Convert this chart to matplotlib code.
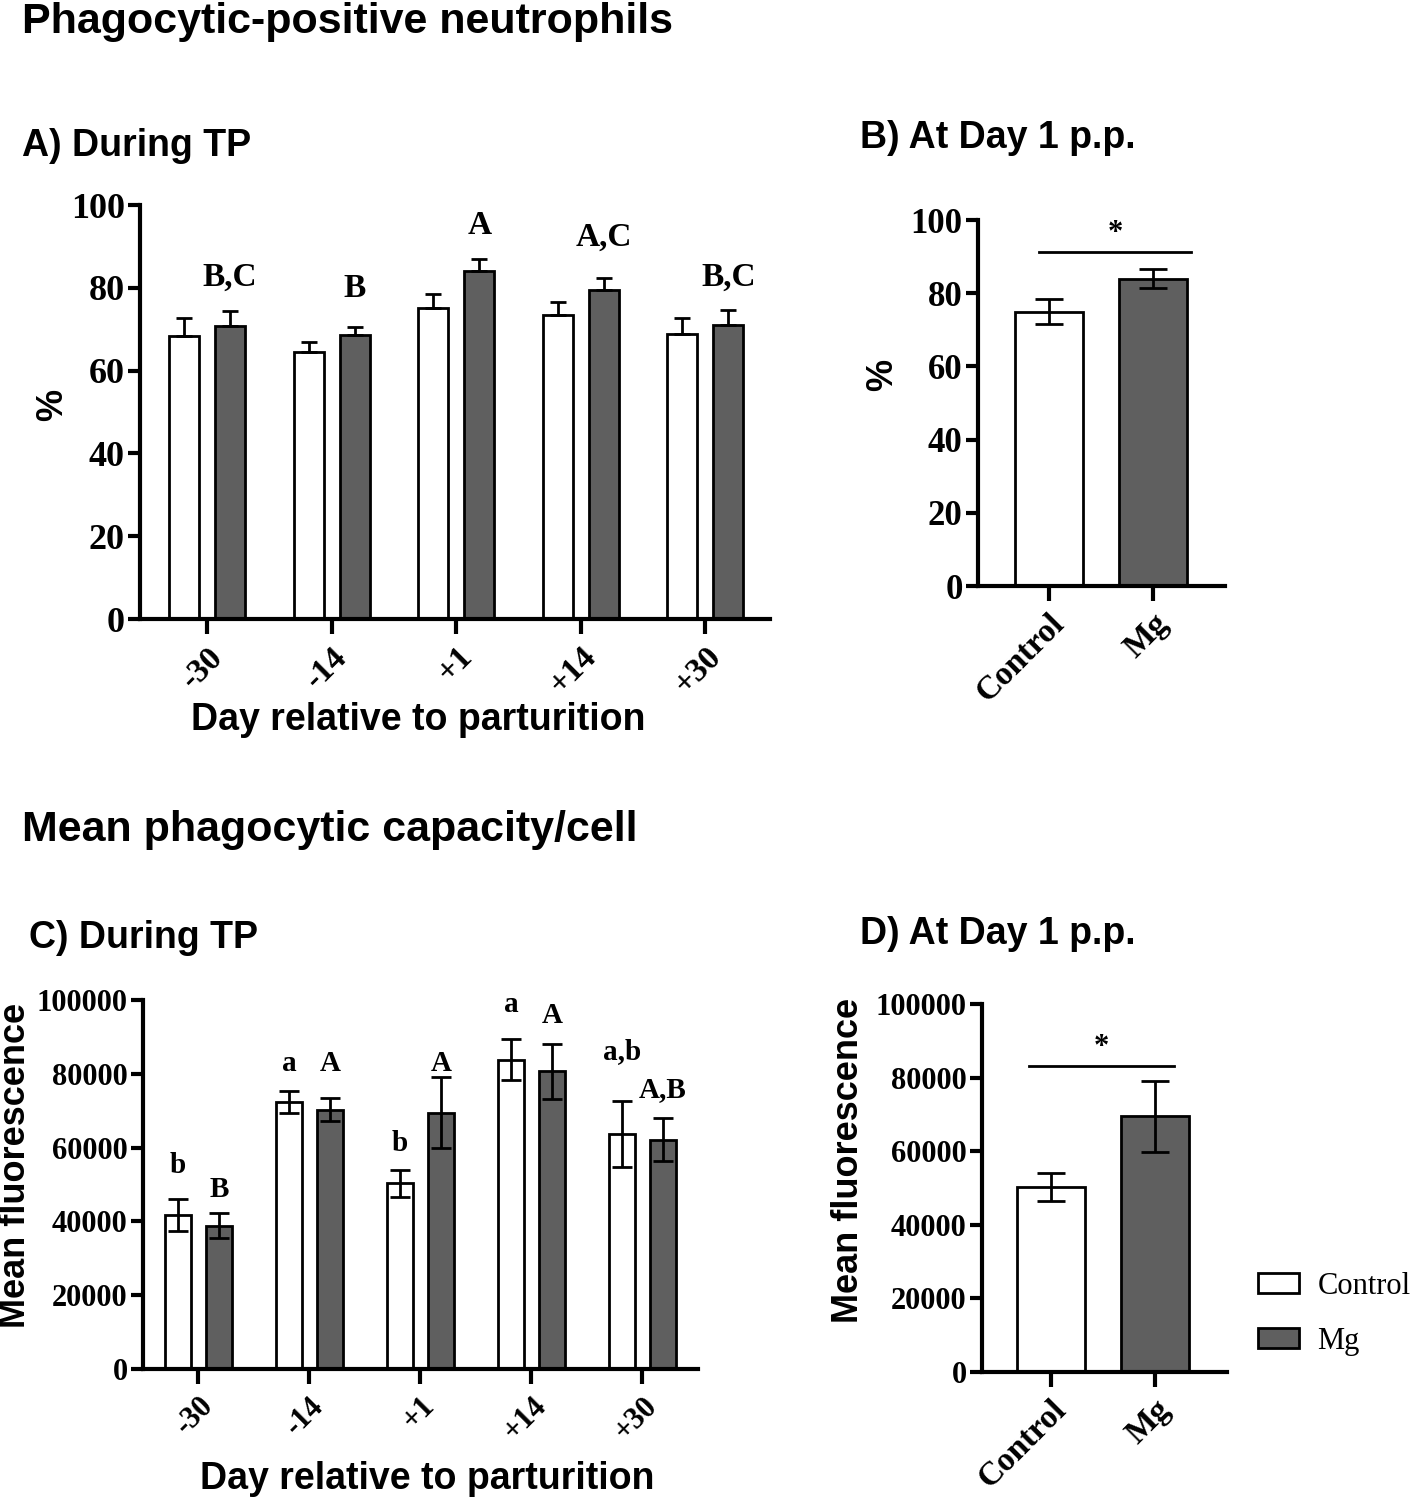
import matplotlib

matplotlib.use("Agg")
import matplotlib.pyplot as plt
from matplotlib.patches import Patch


DAYS = ["-30", "-14", "+1", "+14", "+30"]
GROUPS = ["Control", "Mg"]

# Phagocytic-positive neutrophils (%), mean and SEM per day
pct_control = [68.4, 64.5, 75.1, 73.4, 68.8]
pct_control_sem = [4.2, 2.5, 3.4, 3.3, 3.9]
pct_mg = [70.8, 68.5, 84.1, 79.6, 71.0]
pct_mg_sem = [3.6, 2.0, 2.8, 2.9, 3.6]
pct_letters = ["B,C", "B", "A", "A,C", "B,C"]

# Day 1 p.p. comparison (%)
day1_pct = [75.0, 84.0]
day1_pct_sem = [3.4, 2.6]

# Mean phagocytic capacity / cell (mean fluorescence)
mfi_control = [41700, 72400, 50300, 83800, 63700]
mfi_control_sem = [4300, 3000, 3700, 5600, 8900]
mfi_mg = [38900, 70300, 69500, 80700, 62200]
mfi_mg_sem = [3300, 3100, 9600, 7500, 5900]
mfi_control_letters = ["b", "a", "b", "a", "a,b"]
mfi_mg_letters = ["B", "A", "A", "A", "A,B"]

# Day 1 p.p. comparison (mean fluorescence)
day1_mfi = [50300, 69500]
day1_mfi_sem = [3700, 9600]

MG_GREY = "#5f5f5f"
SANS = "Liberation Sans"
SERIF = "Liberation Serif"

plt.rcParams["font.family"] = SERIF
plt.rcParams["font.weight"] = "bold"


def style_axis(axis, tick_size):
    for side in ["top", "right"]:
        axis.spines[side].set_visible(False)
    for side in ["left", "bottom"]:
        axis.spines[side].set_linewidth(3)
    axis.tick_params(axis="y", length=9, width=3, labelsize=tick_size, pad=2)
    axis.tick_params(axis="x", length=11, width=3, labelsize=22, pad=5)
    for label in axis.get_yticklabels():
        label.set_fontweight("bold")


def rotate_xlabels(axis, labels, size):
    axis.set_xticklabels(
        labels,
        rotation=45,
        ha="right",
        va="top",
        rotation_mode="anchor",
        fontsize=size,
        fontweight="bold",
    )


def grouped_bars(axis, control, control_sem, mg, mg_sem, two_sided, capsize):
    positions = list(range(len(DAYS)))
    offset = 0.185
    width = 0.24
    control_x = [p - offset for p in positions]
    mg_x = [p + offset for p in positions]

    axis.bar(control_x, control, width, color="white", edgecolor="black", linewidth=2, zorder=2)
    axis.bar(mg_x, mg, width, color=MG_GREY, edgecolor="black", linewidth=2, zorder=2)

    for xs, ys, errs in [(control_x, control, control_sem), (mg_x, mg, mg_sem)]:
        lower = errs if two_sided else [0] * len(errs)
        axis.errorbar(
            xs,
            ys,
            yerr=[lower, errs],
            fmt="none",
            ecolor="black",
            elinewidth=2,
            capsize=capsize,
            capthick=2,
            zorder=3,
        )
    return control_x, mg_x


def put_letters(axis, xs, tops, letters, offsets, size):
    for x, top, letter, offset in zip(xs, tops, letters, offsets):
        axis.annotate(
            letter,
            xy=(x, top),
            xytext=(0, offset),
            textcoords="offset points",
            ha="center",
            va="center",
            fontsize=size,
            fontweight="bold",
            family=SERIF,
        )


def pair_bars(axis, values, sem, capsize):
    positions = [0, 1]
    axis.bar(positions, values, 0.65, color=["white", MG_GREY], edgecolor="black", linewidth=2, zorder=2)
    axis.errorbar(
        positions,
        values,
        yerr=sem,
        fmt="none",
        ecolor="black",
        elinewidth=2,
        capsize=capsize,
        capthick=2,
        zorder=3,
    )


def significance(axis, x0, x1, y):
    axis.plot([x0, x1], [y, y], color="black", linewidth=2, clip_on=False)
    axis.annotate(
        "*",
        xy=((x0 + x1) / 2, y),
        xytext=(0, 3),
        textcoords="offset points",
        ha="center",
        va="bottom",
        fontsize=22,
        fontweight="bold",
    )


figure = plt.figure(figsize=(14.18, 15), dpi=100)

figure.text(0.0155, 1 - 33 / 1500, "Phagocytic-positive neutrophils", family=SANS, fontweight="bold", fontsize=31, va="baseline")
figure.text(0.0155, 0.903, "A) During TP", family=SANS, fontweight="bold", fontsize=27, va="center")
figure.text(0.6065, 0.908, "B) At Day 1 p.p.", family=SANS, fontweight="bold", fontsize=27, va="center")
figure.text(0.0155, 0.447, "Mean phagocytic capacity/cell", family=SANS, fontweight="bold", fontsize=31, va="center")
figure.text(0.0205, 0.375, "C) During TP", family=SANS, fontweight="bold", fontsize=27, va="center")
figure.text(0.6065, 0.377, "D) At Day 1 p.p.", family=SANS, fontweight="bold", fontsize=27, va="center")

# Panel A
axis_a = figure.add_axes([0.0987, 0.5873, 0.4443, 0.276])
control_x, mg_x = grouped_bars(axis_a, pct_control, pct_control_sem, pct_mg, pct_mg_sem, False, 6)
mg_tops = [m + s for m, s in zip(pct_mg, pct_mg_sem)]
put_letters(axis_a, mg_x, mg_tops, pct_letters, [24, 28, 24, 29, 24], 24)
axis_a.set_xlim(-0.54, 4.52)
axis_a.set_ylim(0, 100)
axis_a.set_yticks([0, 20, 40, 60, 80, 100])
axis_a.set_xticks(range(len(DAYS)))
style_axis(axis_a, 26)
rotate_xlabels(axis_a, DAYS, 24)
axis_a.set_ylabel("%", family=SANS, fontweight="bold", fontsize=26)
axis_a.yaxis.set_label_coords(-0.111, 0.517)
axis_a.set_xlabel("Day relative to parturition", family=SANS, fontweight="bold", fontsize=27)
axis_a.xaxis.set_label_coords(0.441, -0.2)

# Panel B
axis_b = figure.add_axes([0.6897, 0.6093, 0.1742, 0.244])
pair_bars(axis_b, day1_pct, day1_pct_sem, 10)
significance(axis_b, -0.09, 1.36, 91.2)
axis_b.set_xlim(-0.68, 1.69)
axis_b.set_ylim(0, 100)
axis_b.set_yticks([0, 20, 40, 60, 80, 100])
axis_b.set_xticks([0, 1])
style_axis(axis_b, 25)
rotate_xlabels(axis_b, GROUPS, 24)
axis_b.set_ylabel("%", family=SANS, fontweight="bold", fontsize=26)
axis_b.yaxis.set_label_coords(-0.316, 0.577)

# Panel C
axis_c = figure.add_axes([0.1008, 0.0873, 0.3914, 0.246])
control_x, mg_x = grouped_bars(axis_c, mfi_control, mfi_control_sem, mfi_mg, mfi_mg_sem, True, 7)
control_tops = [m + s for m, s in zip(mfi_control, mfi_control_sem)]
mg_tops = [m + s for m, s in zip(mfi_mg, mfi_mg_sem)]
put_letters(axis_c, control_x, control_tops, mfi_control_letters, [24, 20, 19, 25, 36], 21)
put_letters(axis_c, mg_x, mg_tops, mfi_mg_letters, [17, 25, 10, 20, 20], 21)
axis_c.set_xlim(-0.5, 4.5)
axis_c.set_ylim(0, 100000)
axis_c.set_yticks([0, 20000, 40000, 60000, 80000, 100000])
axis_c.set_xticks(range(len(DAYS)))
style_axis(axis_c, 22)
rotate_xlabels(axis_c, DAYS, 22)
axis_c.set_ylabel("Mean fluorescence", family=SANS, fontweight="bold", fontsize=26)
axis_c.yaxis.set_label_coords(-0.198, 0.553)
axis_c.set_xlabel("Day relative to parturition", family=SANS, fontweight="bold", fontsize=27)
axis_c.xaxis.set_label_coords(0.512, -0.25)

# Panel D
axis_d = figure.add_axes([0.6925, 0.0853, 0.1728, 0.2453])
pair_bars(axis_d, day1_mfi, day1_mfi_sem, 10)
significance(axis_d, -0.21, 1.18, 83200)
axis_d.set_xlim(-0.66, 1.69)
axis_d.set_ylim(0, 100000)
axis_d.set_yticks([0, 20000, 40000, 60000, 80000, 100000])
axis_d.set_xticks([0, 1])
style_axis(axis_d, 22)
rotate_xlabels(axis_d, GROUPS, 24)
axis_d.set_ylabel("Mean fluorescence", family=SANS, fontweight="bold", fontsize=26)
axis_d.yaxis.set_label_coords(-0.473, 0.576)

legend_handles = [
    Patch(facecolor="white", edgecolor="black", linewidth=2, label="Control"),
    Patch(facecolor=MG_GREY, edgecolor="black", linewidth=2, label="Mg"),
]
figure.legend(
    handles=legend_handles,
    loc="upper left",
    bbox_to_anchor=(1258 / 1418, 1 - 1272 / 1500),
    frameon=False,
    prop={"family": SERIF, "size": 22, "weight": "normal"},
    handlelength=1.35,
    handleheight=0.65,
    handletextpad=0.6,
    labelspacing=0.85,
    borderaxespad=0,
    borderpad=0,
)

figure.savefig("out.png", dpi=100)
plt.close(figure)
